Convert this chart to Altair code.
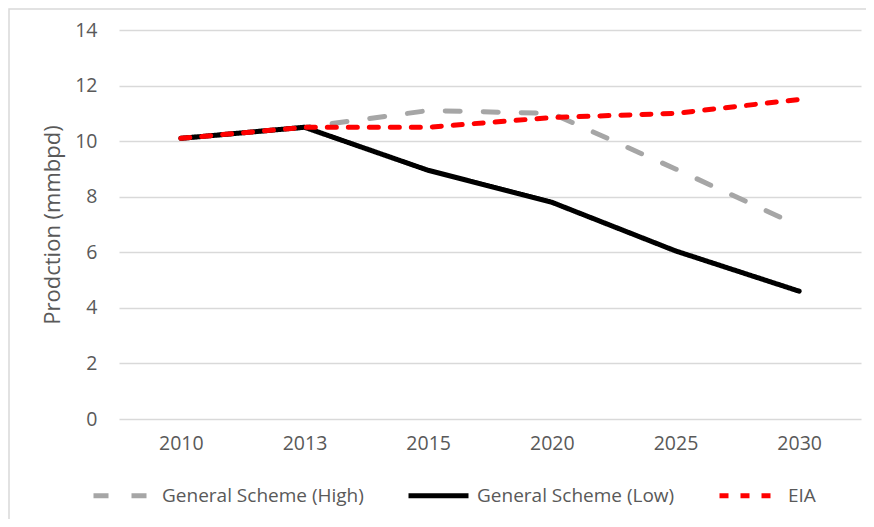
import altair as alt
import pandas as pd

years = ["2010", "2013", "2015", "2020", "2025", "2030"]
series_names = ["General Scheme (High)", "General Scheme (Low)", "EIA"]
high = [10.1, 10.5, 11.1, 11.0, 9.0, 6.95]
low = [10.1, 10.5, 8.95, 7.8, 6.05, 4.6]
eia = [10.1, 10.5, 10.5, 10.85, 11.0, 11.5]
colors = ["#a6a6a6", "#000000", "#ff0000"]
dashes = [[15, 23], [1, 0], [9, 12]]
y_ticks = [0, 2, 4, 6, 8, 10, 12, 14]

rows = []
for name, vals in zip(series_names, [high, low, eia]):
    for yr, v in zip(years, vals):
        rows.append({"year": yr, "value": v, "series": name})
df = pd.DataFrame(rows)

FONT = "Open Sans"
TXT = "#595959"

color_scale = alt.Scale(domain=series_names, range=colors)
dash_scale = alt.Scale(domain=series_names, range=dashes)

legend = alt.Legend(
    orient="none", legendX=-28, legendY=433, direction="horizontal",
    title=None, symbolType="stroke", symbolSize=3600, symbolStrokeWidth=5,
    labelFont=FONT, labelFontSize=19, labelColor=TXT, labelOffset=6,
    labelLimit=400, columnPadding=34,
)

base = alt.Chart(df)


def layer(name):
    return base.transform_filter(alt.datum.series == name).mark_line(
        strokeWidth=5, strokeCap="round", strokeJoin="round"
    ).encode(
        x=alt.X("year:O", sort=years, scale=alt.Scale(type="point", padding=0.5),
                axis=alt.Axis(title=None, labelAngle=0, ticks=False, domain=False,
                              labelPadding=15, labelFont=FONT, labelFontSize=19.5,
                              labelColor=TXT)),
        y=alt.Y("value:Q", scale=alt.Scale(domain=[0, 14], nice=False),
                axis=alt.Axis(title="Prodction (mmbpd)", values=y_ticks, ticks=False,
                              domain=False, labelPadding=22, labelFont=FONT,
                              labelFontSize=19.5, labelColor=TXT, titleFont=FONT,
                              titleFontSize=22, titleFontWeight="normal",
                              titleColor=TXT, titlePadding=10, gridColor="#d9d9d9",
                              gridWidth=1.5)),
        color=alt.Color("series:N", scale=color_scale, legend=legend),
        strokeDash=alt.StrokeDash("series:N", scale=dash_scale, legend=legend),
    )


border = alt.Chart(pd.DataFrame({"a": [0]})).mark_rect(
    fill=None, stroke="#d9d9d9", strokeWidth=1.5
).encode(
    x=alt.value(-110), x2=alt.value(760), y=alt.value(-21), y2=alt.value(520)
)

chart = alt.layer(
    border, layer(series_names[0]), layer(series_names[1]), layer(series_names[2])
).properties(
    width=742, height=389, padding={"left": 111, "top": 22, "right": 5, "bottom": 100},
    autosize=alt.AutoSizeParams(type="none"), background="white",
).configure_view(stroke=None)

chart.save("out.html", embed_options={"renderer": "svg", "actions": False})
